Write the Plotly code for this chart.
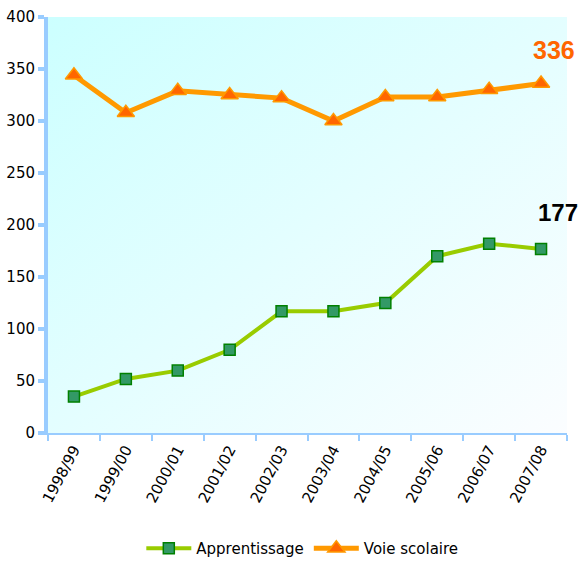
import plotly.graph_objects as go

years = ["1998/99", "1999/00", "2000/01", "2001/02", "2002/03",
         "2003/04", "2004/05", "2005/06", "2006/07", "2007/08"]
apprentissage = [35, 52, 60, 80, 117, 117, 125, 170, 182, 177]
voie_scolaire = [344, 308, 329, 325, 322, 300, 323, 323, 330, 336]
y_ticks = [0, 50, 100, 150, 200, 250, 300, 350, 400]

svg = ("data:image/svg+xml;utf8,<svg xmlns='http://www.w3.org/2000/svg' width='100' height='100' "
       "preserveAspectRatio='none'><defs><linearGradient id='g' x1='0' y1='0' x2='1' y2='1'>"
       "<stop offset='0' stop-color='%23ccffff'/><stop offset='1' stop-color='%23fbfdff'/>"
       "</linearGradient></defs><rect width='100' height='100' fill='url(%23g)'/></svg>")

fig = go.Figure()
fig.add_trace(go.Scatter(
    x=years, y=apprentissage, name="Apprentissage", mode="lines+markers",
    line=dict(color="#99cc00", width=4),
    marker=dict(symbol="square", size=11, color="#339966", line=dict(color="#008000", width=1.5)),
))
fig.add_trace(go.Scatter(
    x=years, y=voie_scolaire, name="Voie scolaire", mode="lines+markers",
    line=dict(color="#ff9900", width=5),
    marker=dict(symbol="triangle-up", size=15, color="#ff6600", line=dict(color="#ff9900", width=1.5)),
))

fig.add_annotation(x=years[-1], y=voie_scolaire[-1], text="<b>336</b>", showarrow=False,
                   xshift=13, yshift=34, font=dict(family="Liberation Sans, Arial", size=25, color="#ff6600"))
fig.add_annotation(x=years[-1], y=apprentissage[-1], text="<b>177</b>", showarrow=False,
                   xshift=17, yshift=36, font=dict(family="Liberation Sans, Arial", size=24, color="#000000"))

fig.add_layout_image(dict(source=svg, xref="paper", yref="paper", x=0, y=1, sizex=1, sizey=1,
                          sizing="stretch", xanchor="left", yanchor="top", layer="below"))

fig.update_layout(
    width=581, height=563,
    margin=dict(l=48, r=14, t=17, b=130, autoexpand=False),
    paper_bgcolor="white", plot_bgcolor="rgba(0,0,0,0)",
    font=dict(family="DejaVu Sans", size=15, color="#000000"),
    showlegend=True,
    legend=dict(orientation="h", x=0.49, xanchor="center", y=-0.238, yanchor="top",
                font=dict(size=15), itemwidth=45, bgcolor="rgba(0,0,0,0)"),
    xaxis=dict(type="category", tickson="boundaries", range=[-0.5, 9.5], showline=True,
               linecolor="#99ccff", linewidth=2,
               ticks="outside", ticklen=6, tickwidth=1.5, tickcolor="#99ccff", automargin=False,
               tickangle=-62, showgrid=False, zeroline=False, tickfont=dict(size=15)),
    yaxis=dict(range=[0, 400], tickvals=y_ticks, showline=True, linecolor="#99ccff", linewidth=4,
               ticks="outside", ticklen=6, tickwidth=4, tickcolor="#99ccff", automargin=False,
               showgrid=False, zeroline=False, tickfont=dict(size=15)),
)

fig.write_html("out.html", config={"displayModeBar": False},
               post_script="document.body.style.margin='0';")
